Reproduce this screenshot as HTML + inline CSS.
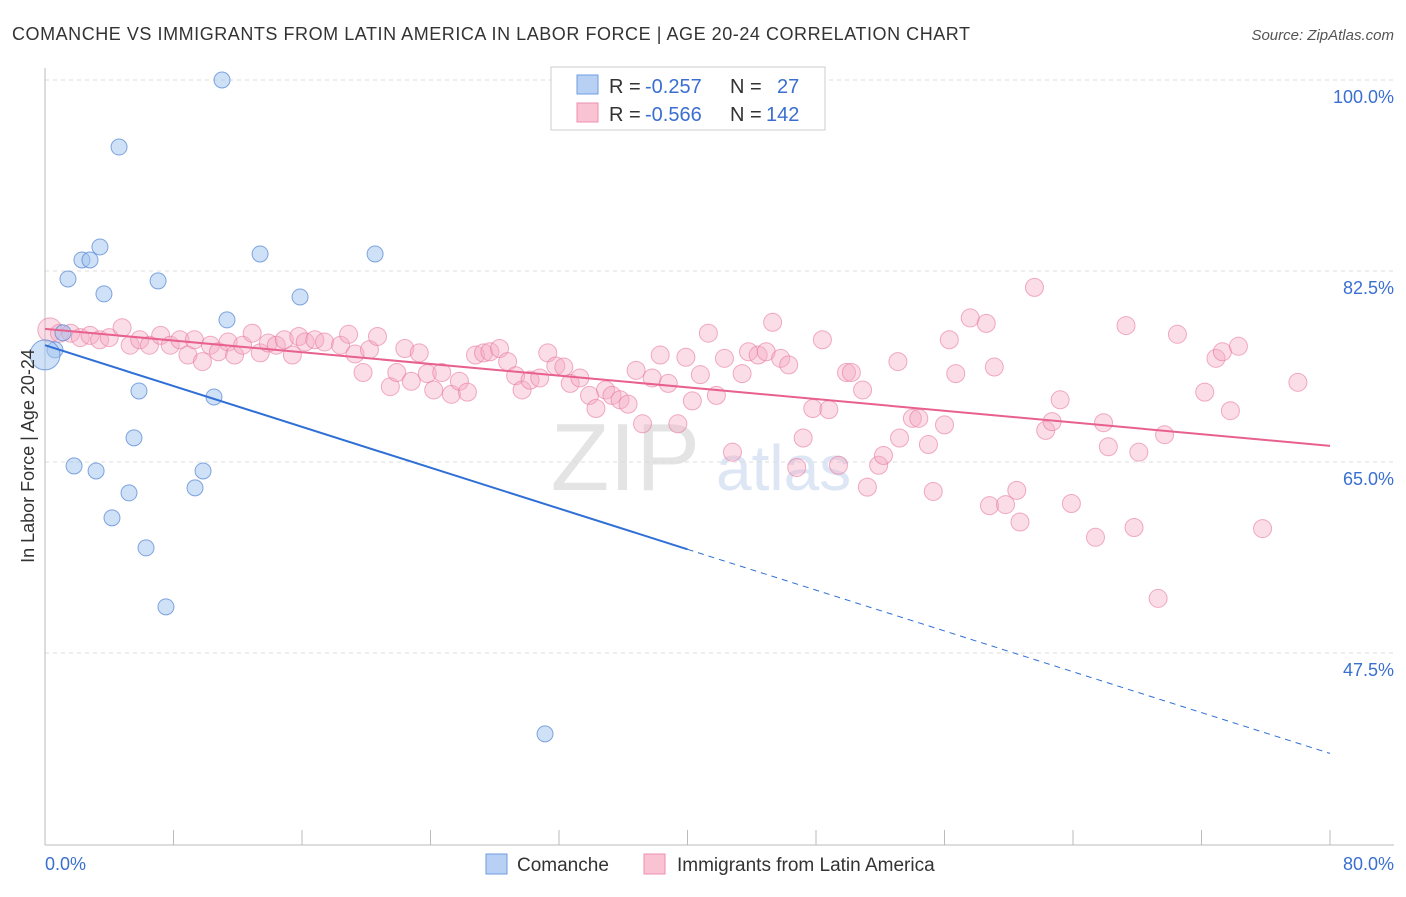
<!DOCTYPE html>
<html><head><meta charset="utf-8"><style>
body{margin:0;background:#fff;font-family:"Liberation Sans",sans-serif}
svg text{font-family:"Liberation Sans",sans-serif}
</style></head><body>
<svg id="c" width="1406" height="892" xmlns="http://www.w3.org/2000/svg">
<text x="12" y="40" font-size="18" fill="#333" textLength="958" lengthAdjust="spacing">COMANCHE VS IMMIGRANTS FROM LATIN AMERICA IN LABOR FORCE | AGE 20-24 CORRELATION CHART</text>
<text x="1394" y="40" font-size="15" fill="#555" font-style="italic" text-anchor="end">Source: ZipAtlas.com</text>
<text x="700" y="490" font-size="96" fill="#e4e4e4" text-anchor="end" font-family="Liberation Serif">ZIP</text>
<text x="716" y="490" font-size="64" fill="#dde6f4">atlas</text>
<g id="grid"></g><g id="marks"></g>
<text transform="translate(34,456) rotate(-90)" font-size="18" fill="#333" text-anchor="middle">In Labor Force | Age 20-24</text>
<text x="45" y="870" font-size="18" fill="#3a6fd1">0.0%</text>
<text x="1394" y="870" font-size="18" fill="#3a6fd1" text-anchor="end">80.0%</text>
<g>
<rect x="551" y="67" width="274" height="63" fill="#fff" stroke="#ccc"/>
<rect x="577" y="75" width="21" height="19" fill="#b8d0f3" stroke="#6e9ee0"/>
<rect x="577" y="103" width="21" height="19" fill="#f9c3d3" stroke="#ee8fae"/>
<text x="609" y="93" font-size="20" fill="#333">R =</text>
<text x="645" y="93" font-size="20" fill="#3a6fd1">-0.257</text>
<text x="730" y="93" font-size="20" fill="#333">N =</text>
<text x="777" y="93" font-size="20" fill="#3a6fd1">27</text>
<text x="609" y="121" font-size="20" fill="#333">R =</text>
<text x="645" y="121" font-size="20" fill="#3a6fd1">-0.566</text>
<text x="730" y="121" font-size="20" fill="#333">N =</text>
<text x="766" y="121" font-size="20" fill="#3a6fd1">142</text>
</g>
<g>
<rect x="486" y="854" width="21" height="20" fill="#b8d0f3" stroke="#6e9ee0"/>
<text x="517" y="871" font-size="19" fill="#333">Comanche</text>
<rect x="644" y="854" width="21" height="20" fill="#f9c3d3" stroke="#ee8fae"/>
<text x="677" y="871" font-size="19" fill="#333">Immigrants from Latin America</text>
</g>
</svg>
<script>
const yTicks=[100,82.5,65,47.5];
const xTicks=[0,8,16,24,32,40,48,56,64,72,80];
const blueX=[11.02,4.61,3.42,2.30,2.80,1.43,7.04,13.39,20.55,3.67,15.88,11.33,1.12,0.62,0,5.85,10.52,5.54,1.81,3.18,9.84,5.23,9.34,4.17,6.29,7.53,31.13];
const blueY=[100,93.86,84.70,83.51,83.51,81.77,81.59,84.06,84.06,80.40,80.12,78.02,76.83,75.27,74.81,71.51,70.96,67.21,64.64,64.18,64.18,62.17,62.63,59.88,57.13,51.73,40.09];
const pinkX=[0.3,0.9,1.6,2.2,2.8,3.4,4.0,4.8,5.3,5.9,6.5,7.2,7.8,8.4,8.9,9.3,9.8,10.3,10.8,11.4,11.8,12.3,12.9,13.4,13.9,14.4,14.9,15.4,15.8,16.2,16.8,17.4,18.4,18.9,19.3,19.8,20.2,20.7,21.5,21.9,22.4,22.8,23.3,23.8,24.2,24.7,25.3,25.8,26.3,26.8,27.3,27.7,28.3,28.8,29.3,29.7,30.2,30.8,31.3,31.8,32.3,32.7,33.3,33.9,34.3,34.9,35.3,35.8,36.3,36.8,37.2,37.8,38.3,38.8,39.4,39.9,40.3,40.8,41.3,41.8,42.3,42.8,43.4,43.8,44.4,44.9,45.3,45.8,46.3,46.8,47.2,47.8,48.4,48.8,49.4,49.9,50.2,50.9,51.2,51.9,52.2,53.1,53.2,54.0,54.4,55.0,55.3,56.0,56.3,56.7,57.6,58.6,58.8,59.1,59.8,60.5,60.7,61.6,62.3,62.7,63.2,63.9,65.4,65.9,66.2,67.3,67.8,68.1,69.3,69.7,70.5,72.2,72.9,73.3,73.8,74.3,75.8,78.0];
const pinkY=[77.1,76.8,76.8,76.4,76.6,76.2,76.4,77.3,75.7,76.2,75.7,76.6,75.7,76.2,74.8,76.2,74.2,75.7,75.1,76.0,74.8,75.7,76.8,75.0,75.9,75.7,76.2,74.8,76.5,76.0,76.2,76.0,75.7,76.7,74.9,73.2,75.3,76.5,71.9,73.2,75.4,72.4,75.0,73.1,71.6,73.2,71.2,72.4,71.4,74.8,75.0,75.1,75.4,74.2,72.9,71.6,72.5,72.7,75.0,73.8,73.7,72.2,72.7,71.1,69.9,71.6,71.1,70.7,70.3,73.4,68.5,72.7,74.8,72.2,68.5,74.6,70.6,73.0,76.8,71.1,74.5,65.9,73.1,75.1,74.8,75.1,77.8,74.5,73.9,64.5,67.2,69.9,76.2,69.8,64.7,73.2,73.2,71.6,62.7,64.7,65.6,74.2,67.2,69.0,69.0,66.6,62.3,68.4,76.2,73.1,78.2,77.7,61.0,73.7,61.1,62.4,59.5,81.0,67.9,68.7,70.7,61.2,58.1,68.6,66.4,77.5,59.0,65.9,52.5,67.5,76.7,71.4,74.5,75.1,69.7,75.6,58.9,72.3];
const blueTrend=[75.7,-0.4675]; // intercept, slope
const pinkTrend=[77.2,-0.134];
const X=v=>45+v/80*1285, Y=v=>80+(100-v)/17.5*191;
const NS='http://www.w3.org/2000/svg';
function mk(t,a,p){const e=document.createElementNS(NS,t);for(const k in a)e.setAttribute(k,a[k]);p.appendChild(e);return e;}
const g=document.getElementById('grid'), m=document.getElementById('marks');
yTicks.forEach(t=>{
 const l=mk('line',{x1:45,x2:1394,y1:Y(t),y2:Y(t),stroke:'#ddd','stroke-dasharray':'4,4'},g);
 
 
 const tx=mk('text',{x:1394,y:Y(t)+23,'font-size':18,fill:'#3a6fd1','text-anchor':'end'},g);
 tx.textContent=t.toFixed(1)+'%';
 
 
});
const ax=mk('line',{x1:45,x2:45,y1:68,y2:845,stroke:'#bbb'},g);


const bx=mk('line',{x1:45,x2:1394,y1:845,y2:845,stroke:'#bbb'},g);


xTicks.forEach(t=>{
 const l=mk('line',{x1:X(t),x2:X(t),y1:830,y2:845,stroke:'#bbb'},g);
 
 
});
pinkX.forEach((v,i)=>{
 const c=mk('circle',{cx:X(v),cy:Y(pinkY[i]),r:i==0?12:9,fill:'rgba(246,170,195,0.4)',stroke:'rgba(232,120,158,0.6)','stroke-width':1},m);
 
 
});
blueX.forEach((v,i)=>{
 const c=mk('circle',{cx:X(v),cy:Y(blueY[i]),r:v==0?15:8,fill:'rgba(160,195,240,0.5)',stroke:'rgba(80,130,210,0.7)','stroke-width':1},m);
 
 
});
const bt=v=>blueTrend[0]+blueTrend[1]*v, pt=v=>pinkTrend[0]+pinkTrend[1]*v;
let l=mk('line',{x1:X(0),y1:Y(bt(0)),x2:X(40),y2:Y(bt(40)),stroke:'#2f6fd6','stroke-width':2},m);


l=mk('line',{x1:X(40),y1:Y(bt(40)),x2:X(80),y2:Y(bt(80)),stroke:'#2f6fd6','stroke-width':1,'stroke-dasharray':'6,5'},m);


l=mk('line',{x1:X(0),y1:Y(pt(0)),x2:X(80),y2:Y(pt(80)),stroke:'#e8608e','stroke-width':2},m);


</script>
</body></html>
